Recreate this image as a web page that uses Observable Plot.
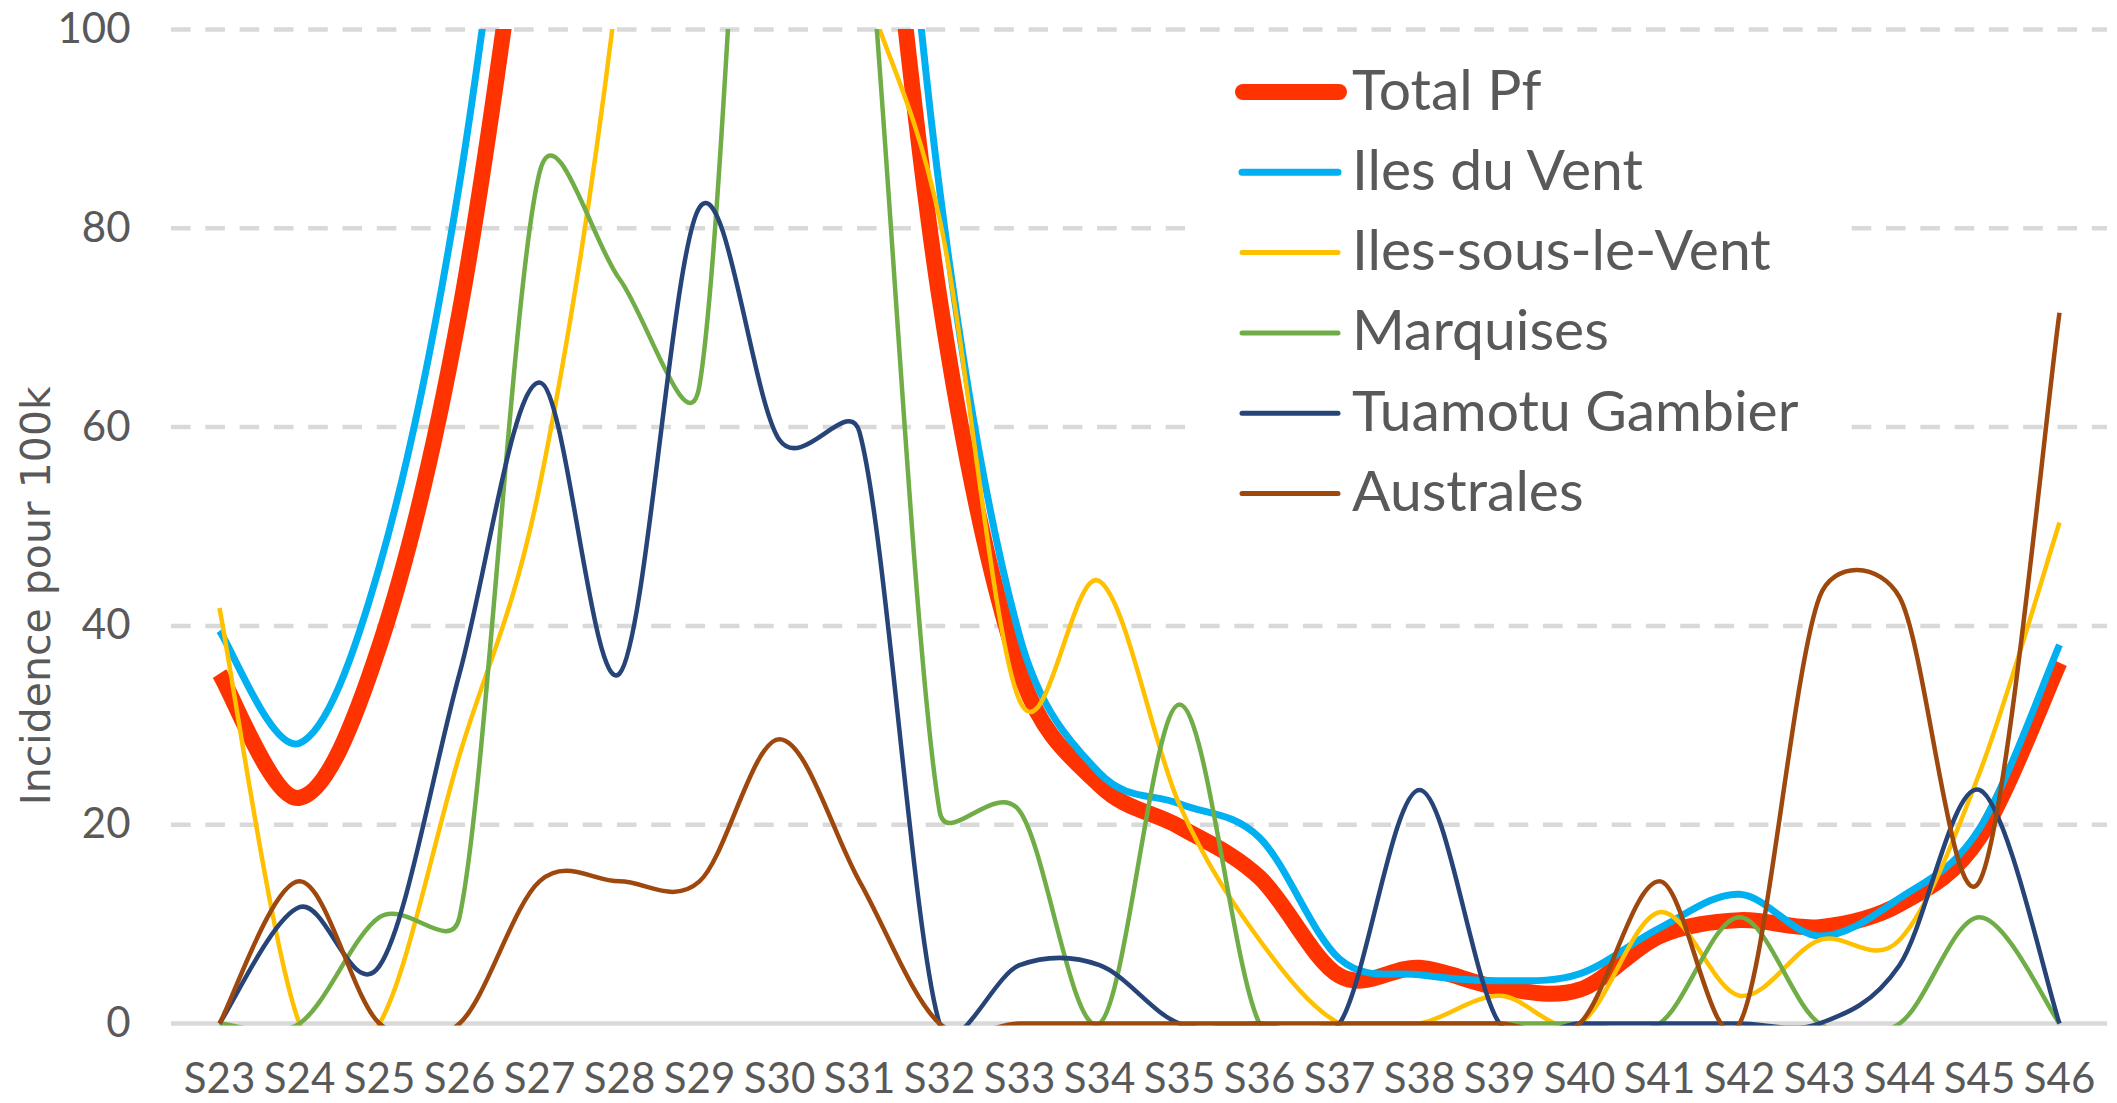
<!DOCTYPE html>
<html><head><meta charset="utf-8">
<script src="https://cdn.jsdelivr.net/npm/d3@7"></script>
<script src="https://cdn.jsdelivr.net/npm/@observablehq/plot@0.6"></script>
<style>
html,body{margin:0;padding:0;background:#fff;}
#wrap{position:relative;width:2117px;height:1103px;overflow:hidden;}
#wrap svg{display:block;}
.leg{position:absolute;left:0;top:0;pointer-events:none;}
</style></head><body><div id="wrap"></div>
<script>
// ---- data (incidence pour 100k, weeks S23..S46) ----
const weeks = ["S23","S24","S25","S26","S27","S28","S29","S30","S31","S32","S33","S34","S35","S36","S37","S38","S39","S40","S41","S42","S43","S44","S45","S46"];
const totalPf = [35.2, 22.7, 38, 71.5, 126, 185, 220, 200, 141, 73, 35.5, 24, 19.8, 14.7, 4.8, 5.6, 3.6, 3.4, 8.8, 10.4, 9.7, 12, 18.7, 36.3];
const ilesDuVent = [39.5, 28.2, 46, 84.5, 146, 215, 260, 240, 165, 84, 39, 25.2, 22.1, 18.7, 6.5, 4.9, 4.3, 5.0, 9.6, 13.0, 8.8, 12.6, 19.6, 38.1];
const ilesSousLeVent = [41.8, 0, 0, 27, 54, 106, 190, 135, 106, 81, 32.5, 44.5, 22, 8.4, 0, 0, 2.8, 0, 11.2, 2.8, 8.4, 8.4, 25.2, 50.4];
const marquises = [0, 0, 10.7, 10.7, 85.6, 74.9, 64.2, 171, 120, 21.4, 21.4, 0, 32.1, 0, 0, 0, 0, 0, 0, 10.7, 0, 0, 10.7, 0];
const tuamotuGambier = [0, 11.7, 5.8, 35.2, 64.5, 35.2, 82.1, 58.7, 59.5, 0, 5.87, 5.87, 0, 0, 0, 23.5, 0, 0, 0, 0, 0, 5.87, 23.5, 0];
const australes = [0, 14.3, 0, 0, 14.3, 14.3, 14.3, 28.6, 14.3, 0, 0, 0, 0, 0, 0, 0, 0, 0, 14.3, 0, 42.9, 42.9, 14.3, 71.5];
const yTicks = [0, 20, 40, 60, 80, 100];
const seriesNames = ["Total Pf", "Iles du Vent", "Iles-sous-le-Vent", "Marquises", "Tuamotu Gambier", "Australes"];
const seriesValues = [totalPf, ilesDuVent, ilesSousLeVent, marquises, tuamotuGambier, australes];
const seriesColors = ["#FF3300", "#00B0F0", "#FFC000", "#70AD47", "#264478", "#9E480E"];
const seriesWidths = [16, 7, 4.5, 4.5, 4.5, 4.5];

// Excel-like smoothed line (Bezier, control offsets limited to half the segment)
function excelCurve(context) {
  let pts;
  return {
    areaStart() {}, areaEnd() {},
    lineStart() { pts = []; },
    point(x, y) { pts.push([+x, +y]); },
    lineEnd() {
      const n = pts.length;
      if (!n) return;
      context.moveTo(pts[0][0], pts[0][1]);
      if (n === 1) return;
      const d = (a, b) => Math.hypot(b[0] - a[0], b[1] - a[1]);
      for (let i = 0; i < n - 1; i++) {
        const p0 = pts[Math.max(0, i - 1)], p1 = pts[i], p2 = pts[i + 1], p3 = pts[Math.min(n - 1, i + 2)];
        const d12 = d(p1, p2), d02 = d(p0, p2), d13 = d(p1, p3);
        let f1 = 1 / 6, f2 = 1 / 6;
        if (d02 / 6 >= d12 / 2) f1 = d02 ? d12 / (2 * d02) : 0;
        if (d13 / 6 >= d12 / 2) f2 = d13 ? d12 / (2 * d13) : 0;
        context.bezierCurveTo(
          p1[0] + (p2[0] - p0[0]) * f1, p1[1] + (p2[1] - p0[1]) * f1,
          p2[0] - (p3[0] - p1[0]) * f2, p2[1] - (p3[1] - p1[1]) * f2,
          p2[0], p2[1]);
      }
    }
  };
}

const rows = seriesNames.map((name, s) => weeks.map((w, i) => ({series: name, week: w, value: seriesValues[s][i]})));

const lineMarks = seriesNames.map((name, s) =>
  Plot.line(rows[s], {x: "week", y: "value", stroke: seriesColors[s], strokeWidth: seriesWidths[s],
    curve: excelCurve, clip: true, strokeLinejoin: "round", strokeLinecap: "butt"}));

const chart = Plot.plot({
  width: 2117, height: 1103,
  marginLeft: 171, marginRight: 10, marginTop: 29, marginBottom: 77.5,
  style: {background: "white", color: "#595959", fontFamily: "Lato, sans-serif", fontSize: "42px"},
  x: {type: "point", domain: weeks, padding: 0.5},
  y: {domain: [-0.25, 100]},
  marks: [
    Plot.gridY(yTicks.filter(t => t > 0), {stroke: "#D9D9D9", strokeOpacity: 1, strokeWidth: 4.5, strokeDasharray: "19.6,14.7"}),
    Plot.ruleY([0], {stroke: "#D9D9D9", strokeWidth: 4.5}),
    Plot.axisY(yTicks, {tickSize: 0, tickPadding: 41, label: null, fill: "#595959"}),
    Plot.axisX({tickSize: 0, tickPadding: 37, label: null, fill: "#595959"}),
    Plot.text(["Incidence pour 100k"], {frameAnchor: "left", rotate: -90, dx: -135, dy: 68,
      fontFamily: "DejaVu Sans", fontSize: 41, fill: "#595959", textAnchor: "middle"}),
    ...lineMarks
  ]
});
const wrap = document.getElementById("wrap");
wrap.appendChild(chart);

// ---- legend overlay (white box over the gridlines) ----
const leg = d3.select(wrap).append("svg").attr("class", "leg").attr("width", 2117).attr("height", 1103);
leg.append("rect").attr("x", 1185).attr("y", 50).attr("width", 666).attr("height", 495).attr("fill", "white");
seriesNames.forEach((name, i) => {
  const ly = 92 + 80.3 * i;
  leg.append("line").attr("x1", i === 0 ? 1243 : 1242).attr("x2", i === 0 ? 1339 : 1338)
    .attr("y1", ly).attr("y2", ly).attr("stroke", seriesColors[i])
    .attr("stroke-width", i === 0 ? 16 : (i === 1 ? 7 : 5)).attr("stroke-linecap", "round");
  leg.append("text").attr("x", 1352).attr("y", 89.5 + 80.3 * i + 20)
    .attr("fill", "#595959").attr("font-family", "Lato, sans-serif").attr("font-size", 57).text(name);
});
</script>
</body></html>
